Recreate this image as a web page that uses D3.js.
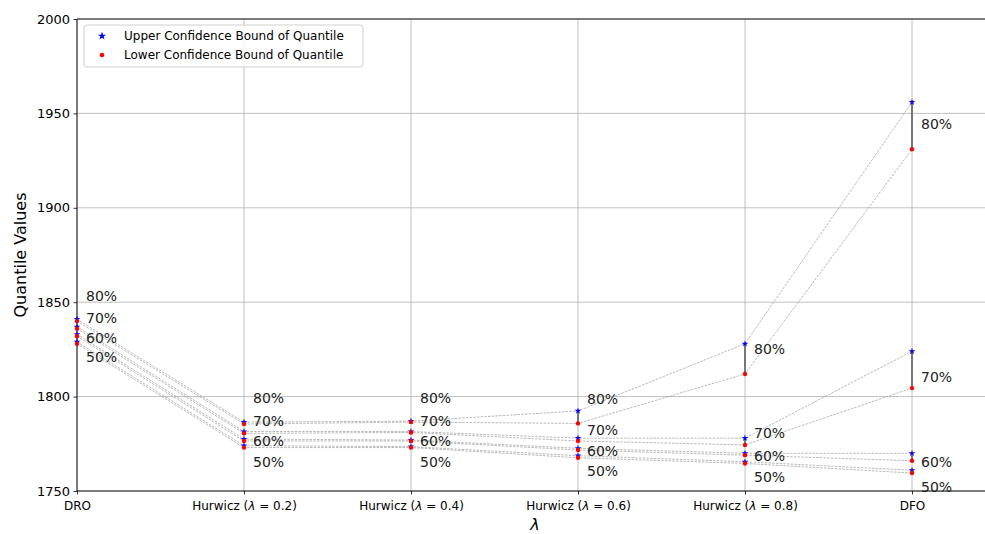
<!DOCTYPE html>
<html lang="en">
<head>
<meta charset="UTF-8">
<title>Quantile chart</title>
<style>
  html, body { margin: 0; height: 100%; overflow: hidden; background: #fff; }
  text { font-family: "DejaVu Sans", sans-serif; }
</style>
<script src="https://d3js.org/d3.v7.min.js"></script>
</head>
<body>
<svg id="svg"></svg>
<script>
// categories on the x axis
const methods = ['DRO', 'Hurwicz (λ = 0.2)', 'Hurwicz (λ = 0.4)', 'Hurwicz (λ = 0.6)', 'Hurwicz (λ = 0.8)', 'DFO'];
const quantiles = ['80%', '70%', '60%', '50%'];

// upper / lower confidence bounds, one row per quantile (80,70,60,50), one value per method
const upper = [
  [1841, 1786.5, 1787, 1792.4, 1828, 1956],
  [1837, 1781.5, 1781.5, 1778, 1778, 1824],
  [1833, 1777.5, 1777, 1772.6, 1770, 1770],
  [1829, 1774, 1773.5, 1768.7, 1765.5, 1761]
];
const lower = [
  [1840, 1785.5, 1786.5, 1785.8, 1812, 1931],
  [1836, 1780.5, 1781, 1776.5, 1774.4, 1804.5],
  [1832, 1776.5, 1776.5, 1771.7, 1769, 1766],
  [1828, 1773, 1773, 1767.6, 1764.6, 1759.5]
];
// where the quantile labels sit (data units)
const labelY = [
  [1853.3, 1799.3, 1799.3, 1798.7, 1825.2, 1944.4],
  [1841.6, 1787.1, 1787.1, 1782.3, 1780.7, 1810.4],
  [1831, 1776.5, 1776.5, 1771.2, 1768.5, 1765.4],
  [1821, 1765.4, 1765.4, 1760.6, 1757.4, 1752.1]
];
const yTicks = [1750, 1800, 1850, 1900, 1950, 2000];

const width = 985, height = 534;
const svg = d3.select('#svg').attr('width', width).attr('height', height);
const margin = { left: 77, right: 985, top: 19, bottom: 491 };

const x = d3.scaleLinear().domain([0, 5]).range([77, 912]);
const y = d3.scaleLinear().domain([1750, 2000]).range([margin.bottom, margin.top]);

// grid
const grid = svg.append('g');
grid.selectAll('.gx').data(methods).join('line')
  .attr('x1', (d, i) => x(i)).attr('x2', (d, i) => x(i))
  .attr('y1', margin.top).attr('y2', margin.bottom)
  .attr('stroke', '#b0b0b0').attr('stroke-width', 0.8);
grid.selectAll('.gy').data(yTicks).join('line')
  .attr('x1', margin.left).attr('x2', margin.right)
  .attr('y1', d => y(d)).attr('y2', d => y(d))
  .attr('stroke', '#b0b0b0').attr('stroke-width', 0.8);

// axes
const yAxis = d3.axisLeft(y).tickValues(yTicks).tickSize(3.5).tickPadding(3.5).tickFormat(d3.format('d'));
const gy = svg.append('g').attr('transform', `translate(${margin.left},0)`).call(yAxis);
gy.select('.domain').remove();
gy.selectAll('text').attr('font-size', 13).attr('fill', '#000').style('font-family', '"DejaVu Sans", sans-serif');
gy.selectAll('line').attr('stroke', '#000').attr('stroke-width', 0.8);

const xAxis = d3.axisBottom(x).tickValues(d3.range(methods.length)).tickSize(3.5).tickPadding(3.5).tickFormat('');
const gx = svg.append('g').attr('transform', `translate(0,${margin.bottom})`).call(xAxis);
gx.select('.domain').remove();
gx.selectAll('line').attr('stroke', '#000').attr('stroke-width', 0.8);
gx.selectAll('.tick').each(function(d) {
  const t = d3.select(this).append('text')
    .attr('y', 19).attr('text-anchor', 'middle')
    .attr('font-size', 12).attr('fill', '#000');
  const name = methods[d];
  const m = name.match(/^(.*\()λ( = .*\))$/);
  if (m) {
    t.append('tspan').text(m[1]);
    t.append('tspan').attr('font-style', 'italic').text('λ');
    t.append('tspan').text(m[2]);
  } else {
    t.text(name);
  }
});

// spines
svg.append('line').attr('x1', margin.left).attr('x2', margin.left).attr('y1', margin.top).attr('y2', margin.bottom).attr('stroke', '#000').attr('stroke-width', 0.9);
svg.append('line').attr('x1', margin.left).attr('x2', margin.right).attr('y1', margin.bottom).attr('y2', margin.bottom).attr('stroke', '#000').attr('stroke-width', 0.9);
svg.append('line').attr('x1', margin.left).attr('x2', margin.right).attr('y1', margin.top).attr('y2', margin.top).attr('stroke', '#000').attr('stroke-width', 0.9);

// axis titles
svg.append('text').attr('transform', `translate(26,${(margin.top + margin.bottom) / 2}) rotate(-90)`)
  .attr('text-anchor', 'middle').attr('font-size', 16).attr('fill', '#000').text('Quantile Values');
svg.append('text').attr('x', 535).attr('y', 530)
  .attr('text-anchor', 'middle').attr('font-size', 16).attr('font-style', 'italic').attr('fill', '#000').text('λ');

// dashed connections between methods
const line = d3.line().x((d, i) => x(i)).y(d => y(d));
const plot = svg.append('g');
[upper, lower].forEach(series => {
  plot.selectAll(null).data(series).join('path')
    .attr('d', d => line(d))
    .attr('fill', 'none').attr('stroke', '#999').attr('stroke-width', 0.7)
    .attr('stroke-dasharray', '2.5,1.2');
});

// vertical bars between bounds
quantiles.forEach((q, qi) => {
  plot.selectAll(null).data(methods).join('line')
    .attr('x1', (d, i) => x(i)).attr('x2', (d, i) => x(i))
    .attr('y1', (d, i) => y(upper[qi][i])).attr('y2', (d, i) => y(lower[qi][i]))
    .attr('stroke', '#555').attr('stroke-width', 1.5);
});

// markers
const star = d3.symbol().type(d3.symbolStar).size(14);
quantiles.forEach((q, qi) => {
  plot.selectAll(null).data(upper[qi]).join('path')
    .attr('d', star)
    .attr('transform', (d, i) => `translate(${x(i)},${y(d)})`)
    .attr('fill', '#0000ff');
  plot.selectAll(null).data(lower[qi]).join('circle')
    .attr('cx', (d, i) => x(i)).attr('cy', d => y(d)).attr('r', 2.2)
    .attr('fill', '#ff0000');
});

// quantile labels
quantiles.forEach((q, qi) => {
  plot.selectAll(null).data(labelY[qi]).join('text')
    .attr('x', (d, i) => x(i) + 9).attr('y', d => y(d))
    .attr('dy', '0.36em').attr('font-size', 14).attr('fill', '#222')
    .text(q);
});

// legend
const lg = svg.append('g').attr('transform', 'translate(84,25)');
lg.append('rect').attr('width', 279).attr('height', 42).attr('rx', 3)
  .attr('fill', '#fff').attr('fill-opacity', 0.8).attr('stroke', '#d0d0d0');
lg.append('path').attr('d', d3.symbol().type(d3.symbolStar).size(22))
  .attr('transform', 'translate(18,11)').attr('fill', '#0000ff');
lg.append('circle').attr('cx', 18).attr('cy', 30).attr('r', 2.3).attr('fill', '#ff0000');
lg.append('text').attr('x', 40).attr('y', 11).attr('dy', '0.35em').attr('font-size', 12).attr('fill', '#000')
  .text('Upper Confidence Bound of Quantile');
lg.append('text').attr('x', 40).attr('y', 30).attr('dy', '0.35em').attr('font-size', 12).attr('fill', '#000')
  .text('Lower Confidence Bound of Quantile');
</script>
</body>
</html>
